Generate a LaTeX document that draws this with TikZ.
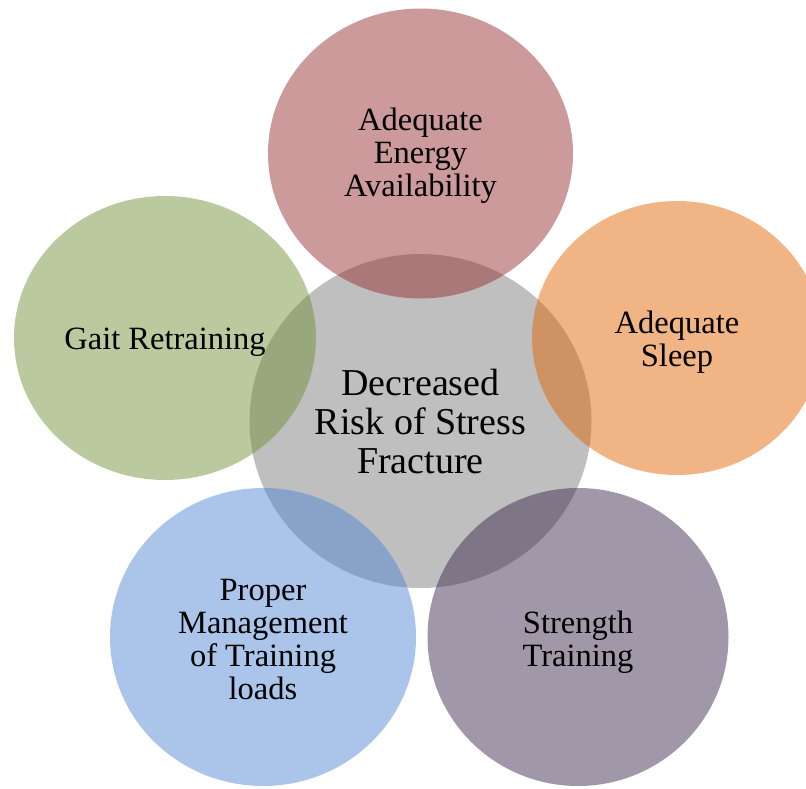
\documentclass[tikz,border=0pt]{standalone}
\usepackage{fontspec}
\setmainfont{Liberation Serif}
\usetikzlibrary{shapes.geometric}
\definecolor{hubgray}{RGB}{191,191,191}
\definecolor{petalred}{RGB}{149,43,43}
\definecolor{petalgreen}{RGB}{113,143,53}
\definecolor{petalorange}{RGB}{226,99,0}
\definecolor{petalblue}{RGB}{78,134,209}
\definecolor{petalpurple}{RGB}{57,40,74}
\tikzset{
  hub/.style={ellipse, inner sep=0pt, fill=hubgray, align=center,
    font=\fontsize{38}{39}\selectfont},
  petal/.style={ellipse, inner sep=0pt, fill=#1, fill opacity=0.48},
  petaltext/.style={align=center, inner sep=0pt,
    font=\fontsize{32.5}{33}\selectfont},
}
\begin{document}
\begin{tikzpicture}[x=1pt, y=-1pt]
  \useasboundingbox (0,0) rectangle (806,789);
  % central circle
  \node[hub, minimum width=342pt, minimum height=334pt] (hub) at (420.5,421)
    {Decreased\\Risk of Stress\\Fracture};
  % surrounding circles, translucent over the hub
  \node[petal=petalred, minimum width=305pt, minimum height=290pt] (energy)
    at (420.5,153.5) {};
  \node[petal=petalorange, minimum width=290pt, minimum height=274pt] (sleep)
    at (677,338) {};
  \node[petal=petalpurple, minimum width=301pt, minimum height=298pt] (strength)
    at (578,637) {};
  \node[petal=petalblue, minimum width=306pt, minimum height=298pt] (loads)
    at (263,637) {};
  \node[petal=petalgreen, minimum width=302pt, minimum height=284pt] (gait)
    at (165,338) {};
  % labels of the surrounding circles
  \node[petaltext] (energytext) at ([yshift=-2.5pt]energy.center)
    {Adequate\\Energy\\Availability};
  \node[petaltext] (sleeptext) at ([yshift=-4pt]sleep.center)
    {Adequate\\Sleep};
  \node[petaltext] (strengthtext) at ([yshift=-5pt]strength.center)
    {Strength\\Training};
  \node[petaltext] (loadstext) at ([yshift=-3pt]loads.center)
    {Proper\\Management\\of Training\\loads};
  \node[petaltext] (gaittext) at ([yshift=-4pt]gait.center)
    {Gait Retraining};
\end{tikzpicture}
\end{document}
